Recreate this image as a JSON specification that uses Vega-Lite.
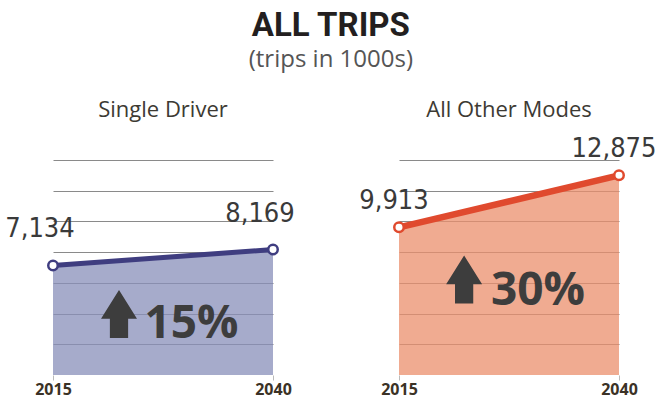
{
  "$schema": "https://vega.github.io/schema/vega-lite/v6.json",
  "padding": {"left": 5, "top": 10, "right": 0, "bottom": 4},
  "title": {
    "text": "ALL TRIPS",
    "subtitle": "(trips in 1000s)",
    "anchor": "middle",
    "font": "Roboto",
    "fontSize": 33,
    "fontWeight": "bold",
    "color": "#231f20",
    "subtitleFont": "Open Sans",
    "subtitleFontSize": 24,
    "subtitleColor": "#555555",
    "subtitlePadding": 5,
    "offset": 27
  },
  "spacing": 126,
  "bounds": "flush",
  "config": {
    "view": {"stroke": null},
    "font": "Open Sans",
    "axisX": {
      "title": null,
      "format": "d",
      "labelFont": "Open Sans",
      "labelFontWeight": "bold",
      "labelFontSize": 16,
      "labelColor": "#3b3226",
      "domain": false,
      "ticks": true,
      "tickColor": "#bbbbbb",
      "tickSize": 5,
      "labelPadding": 1,
      "grid": false,
      "labelFlush": false
    },
    "axisY": {
      "title": null,
      "labels": false,
      "ticks": false,
      "domain": false,
      "grid": true,
      "gridColor": "#8a8a8a",
      "gridWidth": 1
    }
  },
  "hconcat": [
    {
      "width": 220,
      "height": 215,
      "title": {"text": "Single Driver", "font": "Open Sans", "fontSize": 22, "fontWeight": "normal", "color": "#3d3a33", "anchor": "middle", "offset": 38},
      "data": {"values": [{"year": 2015, "trips": 7134}, {"year": 2040, "trips": 8169}]},
      "encoding": {
        "x": {"field": "year", "type": "quantitative", "scale": {"domain": [2015, 2040], "nice": false, "zero": false}, "axis": {"values": [2015, 2040]}},
        "y": {"field": "trips", "type": "quantitative", "scale": {"domain": [0, 14000], "nice": false}, "axis": {"values": [2000, 4000, 6000, 8000, 10000, 12000, 14000]}}
      },
      "layer": [
        {"mark": {"type": "area", "color": "#888fba", "opacity": 0.75, "clip": true}},
        {"mark": {"type": "line", "color": "#3f3d80", "strokeWidth": 5}},
        {"mark": {"type": "point", "filled": true, "fill": "white", "stroke": "#3f3d80", "strokeWidth": 2.5, "size": 90, "opacity": 1}},
        {"mark": {"type": "text", "font": "'DejaVu Sans Condensed', Roboto, sans-serif", "fontSize": 27, "color": "#3a3a3a", "baseline": "alphabetic", "dy": -28, "dx": -13},
         "encoding": {"text": {"field": "trips", "type": "quantitative", "format": ",d"}}},
        {"transform": [{"filter": "datum.year == 2015"}],
         "mark": {"type": "point", "shape": "M0,-1L0.75,0.2L0.38,0.2L0.38,1L-0.38,1L-0.38,0.2L-0.75,0.2Z", "size": 2304, "filled": true, "color": "#3d3d3d", "opacity": 1},
         "encoding": {"x": {"datum": 2022.5, "type": "quantitative"}, "y": {"datum": 3972, "type": "quantitative"}}},
        {"transform": [{"filter": "datum.year == 2015"}],
         "mark": {"type": "text", "text": "15%", "font": "Open Sans", "fontWeight": "bold", "fontSize": 46, "color": "#3d3d3d", "align": "left", "baseline": "alphabetic"},
         "encoding": {"x": {"datum": 2025.4, "type": "quantitative"}, "y": {"datum": 2409, "type": "quantitative"}}}
      ]
    },
    {
      "width": 220,
      "height": 215,
      "title": {"text": "All Other Modes", "font": "Open Sans", "fontSize": 22, "fontWeight": "normal", "color": "#3d3a33", "anchor": "middle", "offset": 13},
      "data": {"values": [{"year": 2015, "trips": 9913}, {"year": 2040, "trips": 12875}]},
      "encoding": {
        "x": {"field": "year", "type": "quantitative", "scale": {"domain": [2015, 2040], "nice": false, "zero": false}, "axis": {"values": [2015, 2040]}},
        "y": {"field": "trips", "type": "quantitative", "scale": {"domain": [1500, 13750], "nice": false, "zero": false}, "axis": {"values": [3250, 5000, 6750, 8500, 10250, 12000, 13750]}}
      },
      "layer": [
        {"mark": {"type": "area", "color": "#eb8f6c", "opacity": 0.75, "clip": true}},
        {"mark": {"type": "line", "color": "#e04a2e", "strokeWidth": 6.5}},
        {"mark": {"type": "point", "filled": true, "fill": "white", "stroke": "#e04a2e", "strokeWidth": 2.5, "size": 90, "opacity": 1}},
        {"mark": {"type": "text", "font": "'DejaVu Sans Condensed', Roboto, sans-serif", "fontSize": 27, "color": "#3a3a3a", "baseline": "alphabetic", "dy": -18, "dx": -5},
         "encoding": {"text": {"field": "trips", "type": "quantitative", "format": ",d"}}},
        {"transform": [{"filter": "datum.year == 2015"}],
         "mark": {"type": "point", "shape": "M0,-1L0.75,0.2L0.38,0.2L0.38,1L-0.38,1L-0.38,0.2L-0.75,0.2Z", "size": 2304, "filled": true, "color": "#3d3d3d", "opacity": 1},
         "encoding": {"x": {"datum": 2022.4, "type": "quantitative"}, "y": {"datum": 6941, "type": "quantitative"}}},
        {"transform": [{"filter": "datum.year == 2015"}],
         "mark": {"type": "text", "text": "30%", "font": "Open Sans", "fontWeight": "bold", "fontSize": 46, "color": "#3d3d3d", "align": "left", "baseline": "alphabetic"},
         "encoding": {"x": {"datum": 2025.45, "type": "quantitative"}, "y": {"datum": 5489, "type": "quantitative"}}}
      ]
    }
  ]
}
